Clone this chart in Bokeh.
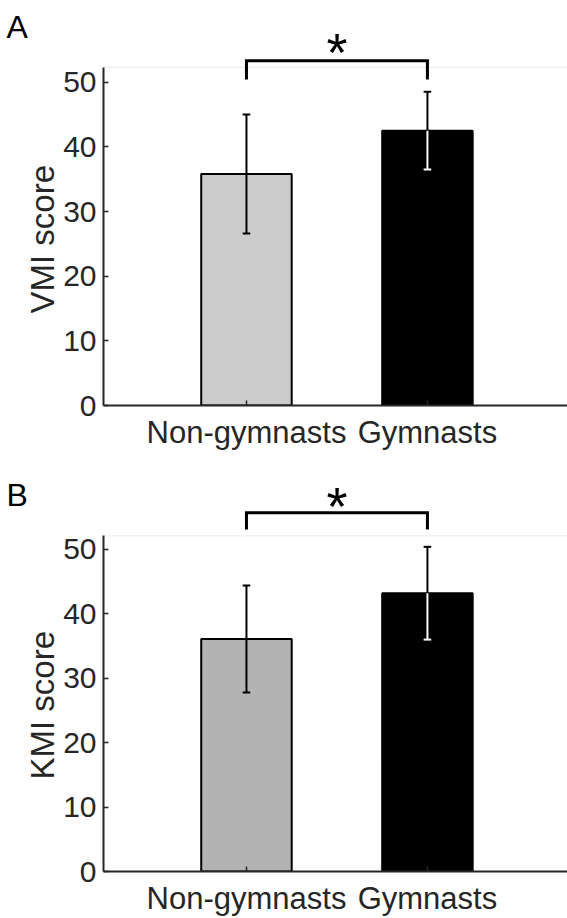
from bokeh.plotting import figure
from bokeh.layouts import column
from bokeh.models import Range1d, FixedTicker, Label, Title
from bokeh.core.properties import value
from bokeh.embed import file_html
from bokeh.resources import INLINE

# ---- data ----
categories = ["Non-gymnasts", "Gymnasts"]
x_pos = [1, 2]
vmi_mean = [35.8, 42.5]
vmi_err = [9.2, 6.0]
kmi_mean = [36.1, 43.2]
kmi_err = [8.3, 7.2]
y_ticks = [0, 10, 20, 30, 40, 50]
vmi_colors = ["#cccccc", "#000000"]
kmi_colors = ["#b3b3b3", "#000000"]
lower_err_colors = ["#000000", "#ffffff"]

FONT = "Liberation Sans"
AX = "#262626"
X0, X1 = 0.21, 2.774


def make_panel(letter, ylabel, means, errs, colors, height, bottom, y_end,
               y_box, br_end, br_top, star_y, letter_y):
    p = figure(width=567, height=height, output_backend="svg",
               toolbar_location=None, x_range=Range1d(X0, X1),
               y_range=Range1d(0, y_end), min_border_left=101,
               min_border_right=0, min_border_top=0, min_border_bottom=bottom)
    p.outline_line_color = None
    p.grid.visible = False
    p.background_fill_color = "white"
    p.border_fill_color = "white"

    # faint top box line
    p.segment(x0=[X0], y0=[y_box], x1=[X1], y1=[y_box],
              line_color="#ebebeb", line_width=1)

    p.vbar(x=x_pos, top=means, width=0.5, bottom=0, fill_color=colors,
           line_color="black", line_width=2)

    up = [m + e for m, e in zip(means, errs)]
    lo = [m - e for m, e in zip(means, errs)]
    cap = 0.021
    p.segment(x0=x_pos, y0=means, x1=x_pos, y1=up, line_color="black", line_width=2)
    p.segment(x0=[x - cap for x in x_pos], y0=up, x1=[x + cap for x in x_pos], y1=up,
              line_color="black", line_width=2)
    p.segment(x0=x_pos, y0=lo, x1=x_pos, y1=means, line_color=lower_err_colors,
              line_width=2)
    p.segment(x0=[x - cap for x in x_pos], y0=lo, x1=[x + cap for x in x_pos], y1=lo,
              line_color=lower_err_colors, line_width=2)

    # significance bracket
    p.line(x=[x_pos[0], x_pos[0], x_pos[1], x_pos[1]],
           y=[br_end, br_top, br_top, br_end], line_color="black", line_width=3,
           line_join="miter")
    p.text(x=[(x_pos[0] + x_pos[1]) / 2], y=[star_y], text=["*"],
           text_font=value(FONT), text_font_size="54px", text_font_style="normal",
           text_align="center", text_baseline="middle", text_color="black")

    # axes
    p.xaxis.ticker = FixedTicker(ticks=x_pos)
    p.xaxis.major_label_overrides = {x: c for x, c in zip(x_pos, categories)}
    p.yaxis.ticker = FixedTicker(ticks=y_ticks)
    p.yaxis.bounds = (0, y_box)
    for ax in (p.xaxis, p.yaxis):
        ax.axis_line_color = AX
        ax.axis_line_width = 2
        ax.major_tick_line_color = AX
        ax.major_tick_line_width = 1.5
        ax.major_tick_in = 5
        ax.major_tick_out = 0
        ax.minor_tick_line_color = None
        ax.major_label_text_font = FONT
        ax.major_label_text_color = AX
        ax.axis_label_standoff = 0
    p.xaxis.major_label_text_font_size = "31px"
    p.yaxis.major_label_text_font_size = "30px"
    p.xaxis.major_label_standoff = 9
    p.yaxis.major_label_standoff = 7

    # y-axis title, placed beside the axis and centred on the drawn axis line
    t = Title(text=ylabel, align="left", offset=92, standoff=0,
              text_font=FONT, text_font_size="33px", text_font_style="normal",
              text_color=AX)
    p.add_layout(t, "left")

    # panel letter in the left side panel
    lab = Label(x=6, y=letter_y, x_units="screen", y_units="data",
                text=letter, text_font=FONT, text_font_size="32px",
                text_color="black", text_baseline="alphabetic", text_align="left")
    p.add_layout(lab, "left")
    return p


pa = make_panel("A", "VMI score", vmi_mean, vmi_err, vmi_colors, 460, 55,
                62.63, 52.3, 50.4, 53.3, 54.6, 58.6)
pb = make_panel("B", "KMI score", kmi_mean, kmi_err, kmi_colors, 458, 46,
                63.8, 52.1, 53.1, 55.7, 56.7, 58.5)

layout = column(pa, pb, spacing=0)
open("out.html", "w").write(file_html(layout, INLINE))
